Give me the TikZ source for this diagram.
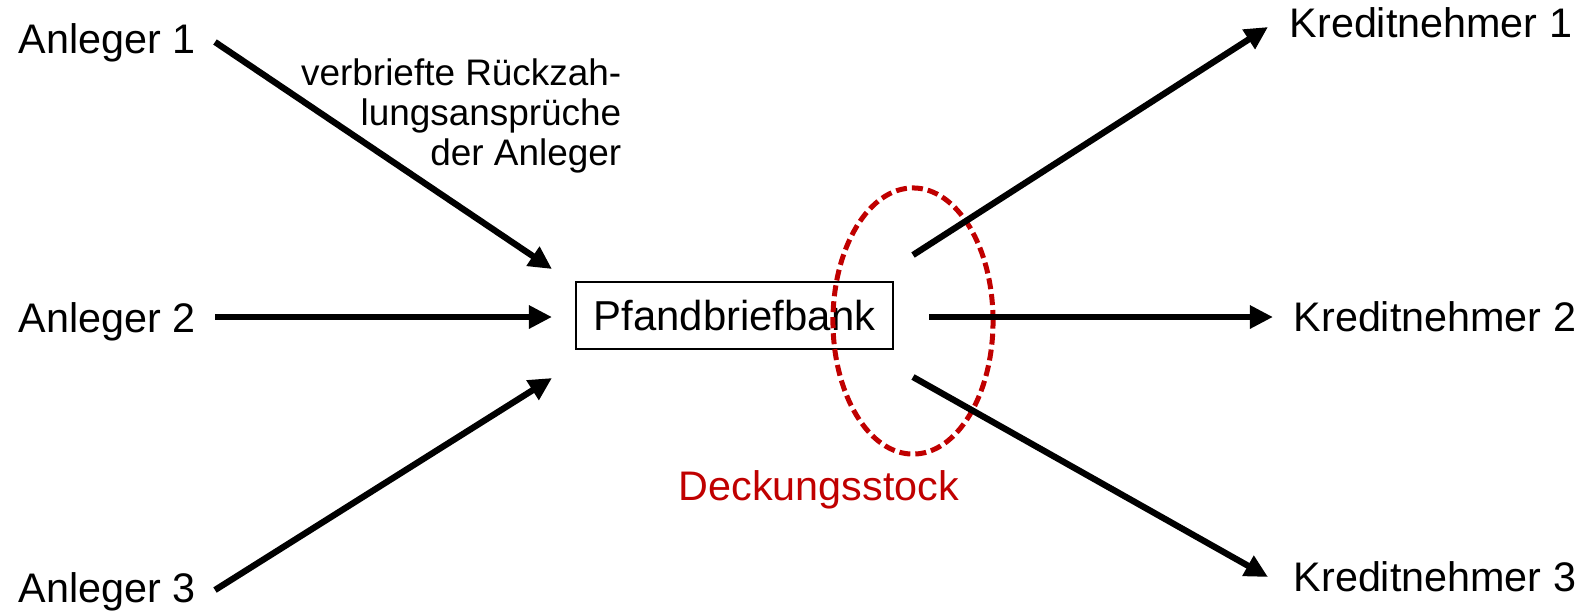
\documentclass[tikz,border=0pt]{standalone}
\usepackage{fontspec}
\setmainfont{Liberation Sans}
\usetikzlibrary{arrows.meta,shapes.geometric}
\definecolor{dred}{HTML}{C00000}
\tikzset{
  lbl/.style={anchor=base west, inner sep=0pt, font=\fontsize{11.75}{14}\selectfont},
  flow/.style={line width=0.063cm, -{Triangle[length=0.23cm, width=0.22cm]}}
}
\begin{document}
\begin{tikzpicture}[x=0.01cm, y=-0.01cm]
\useasboundingbox (0,0) rectangle (1581,614);
% left nodes
\node[lbl] (a1) at (18,53) {Anleger 1};
\node[lbl] (a2) at (18,332) {Anleger 2};
\node[lbl] (a3) at (18,602) {Anleger 3};
% right nodes
\node[lbl] (k1) at (1289,37) {Kreditnehmer 1};
\node[lbl] (k2) at (1293,331) {Kreditnehmer 2};
\node[lbl] (k3) at (1293,591) {Kreditnehmer 3};
% center
\node[draw, line width=0.6pt, minimum width=3.17cm, minimum height=0.67cm, inner sep=0pt,
      font=\fontsize{11.9}{14}\selectfont] (pb) at (734.5,315.5) {Pfandbriefbank};
% coverage pool
\node[draw=dred, line width=0.05cm, dash pattern=on 0.11cm off 0.05cm, ellipse,
      minimum width=1.6cm, minimum height=2.66cm, inner sep=0pt] (ds) at (913,321) {};
\node[lbl, text=dred] (dst) at (678,500) {Deckungsstock};
% label
\node[anchor=north east, align=right, inner sep=0pt, font=\fontsize{10.5}{11.4}\selectfont]
  (lab) at (622,58) {verbriefte Rückzah-\\lungsansprüche\\der Anleger};
% coordinates
\coordinate (s1) at (215,42);
\coordinate (e1) at (552,269);
\coordinate (s2) at (215,317);
\coordinate (e2) at (552,317);
\coordinate (s3) at (215,590);
\coordinate (e3) at (552,378);
\coordinate (r1) at (913,255);
\coordinate (t1) at (1268,27);
\coordinate (r2) at (929,317);
\coordinate (t2) at (1273,317);
\coordinate (r3) at (913,377);
\coordinate (t3) at (1268,577);
\draw[flow] (s1) -- (e1);
\draw[flow] (s2) -- (e2);
\draw[flow] (s3) -- (e3);
\draw[flow] (r1) -- (t1);
\draw[flow] (r2) -- (t2);
\draw[flow] (r3) -- (t3);
\end{tikzpicture}
\end{document}
